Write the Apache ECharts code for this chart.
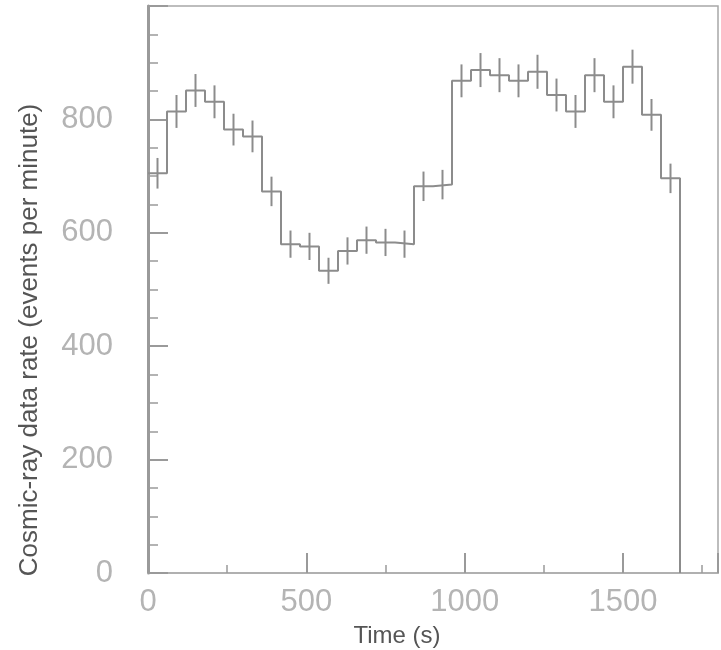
<!DOCTYPE html>
<html>
<head>
<meta charset="utf-8">
<script src="https://cdn.jsdelivr.net/npm/echarts@6/dist/echarts.min.js"></script>
<style>
    html, body { margin: 0; padding: 0; background: #fff; }
    #chart { width: 721px; height: 650px; }
</style>
</head>
<body>
<div id="chart"></div>
<script>
    // one-minute bins, counts per bin
    var binWidth = 60;
    var rates = [705, 814, 851, 831, 782, 770, 673, 580, 576, 533, 568, 587, 583, 580,
                 682, 685, 868, 887, 878, 868, 884, 843, 814, 878, 831, 893, 808, 696];
    var errors = [27, 29, 29, 29, 28, 28, 26, 24, 24, 23, 24, 24, 24, 24,
                  26, 26, 29, 30, 30, 29, 30, 29, 29, 30, 29, 30, 28, 26];
    var xTicks = [0, 500, 1000, 1500];
    var yTicks = [0, 200, 400, 600, 800];

    var grey = '#9a9a9a';
    var labelGrey = '#b4b4b4';
    var titleGrey = '#555';

    // step outline of the histogram
    var steps = [];
    for (var i = 0; i < rates.length; i++) {
        steps.push([i * binWidth, rates[i]]);
    }
    steps.push([rates.length * binWidth, rates[rates.length - 1]]);
    steps.push([rates.length * binWidth, 0]);

    var bars = [];
    for (var j = 0; j < rates.length; j++) {
        bars.push([(j + 0.5) * binWidth, rates[j] - errors[j], rates[j] + errors[j]]);
    }

    var chart = echarts.init(document.getElementById('chart'));

    chart.setOption({
        animation: false,
        grid: {
            left: 148, top: 6, bottom: 77, right: -8,
            show: true, borderColor: '#a8a8a8', borderWidth: 1.5
        },
        xAxis: {
            type: 'value', min: 0, max: 1800, interval: 500,
            axisLine: { show: true, lineStyle: { color: '#b0b0b0', width: 2 } },
            axisTick: { show: true, inside: true, length: 20, lineStyle: { color: grey, width: 2 } },
            minorTick: { show: true, splitNumber: 2, length: 8, lineStyle: { color: grey, width: 1.5 } },
            splitLine: { show: false },
            axisLabel: {
                margin: 14, color: labelGrey, fontSize: 31, fontFamily: 'Liberation Sans', fontWeight: 'lighter',
                formatter: function (v) { return xTicks.indexOf(v) >= 0 ? String(v) : ''; }
            }
        },
        yAxis: {
            type: 'value', min: 0, max: 1000, interval: 200,
            axisLine: { show: true, lineStyle: { color: grey, width: 3 } },
            axisTick: { show: true, inside: true, length: 20, lineStyle: { color: grey, width: 2 } },
            minorTick: { show: true, splitNumber: 4, length: 10, lineStyle: { color: grey, width: 1.5 } },
            splitLine: { show: false },
            axisLabel: {
                margin: 35, color: labelGrey, fontSize: 31, fontFamily: 'Liberation Sans', fontWeight: 'lighter',
                formatter: function (v) { return yTicks.indexOf(v) >= 0 ? String(v) : ''; }
            }
        },
        graphic: [
            {
                type: 'text', x: 397, y: 636,
                style: { text: 'Time (s)', fill: titleGrey, font: '24px "Liberation Sans"', align: 'center', verticalAlign: 'middle' }
            },
            {
                type: 'text', x: 30, y: 340, rotation: Math.PI / 2,
                style: { text: 'Cosmic-ray data rate (events per minute)', fill: titleGrey, font: '26px "Liberation Sans"', align: 'center', verticalAlign: 'middle' }
            }
        ],
        series: [
            {
                type: 'line', step: 'end', data: steps, symbol: 'none',
                lineStyle: { color: '#8c8c8c', width: 2 }
            },
            {
                type: 'custom',
                data: bars,
                renderItem: function (params, api) {
                    var lo = api.coord([api.value(0), api.value(1)]);
                    var hi = api.coord([api.value(0), api.value(2)]);
                    return {
                        type: 'line',
                        shape: { x1: lo[0], y1: lo[1], x2: hi[0], y2: hi[1] },
                        style: { stroke: '#8c8c8c', lineWidth: 2 }
                    };
                }
            }
        ]
    });
</script>
</body>
</html>
